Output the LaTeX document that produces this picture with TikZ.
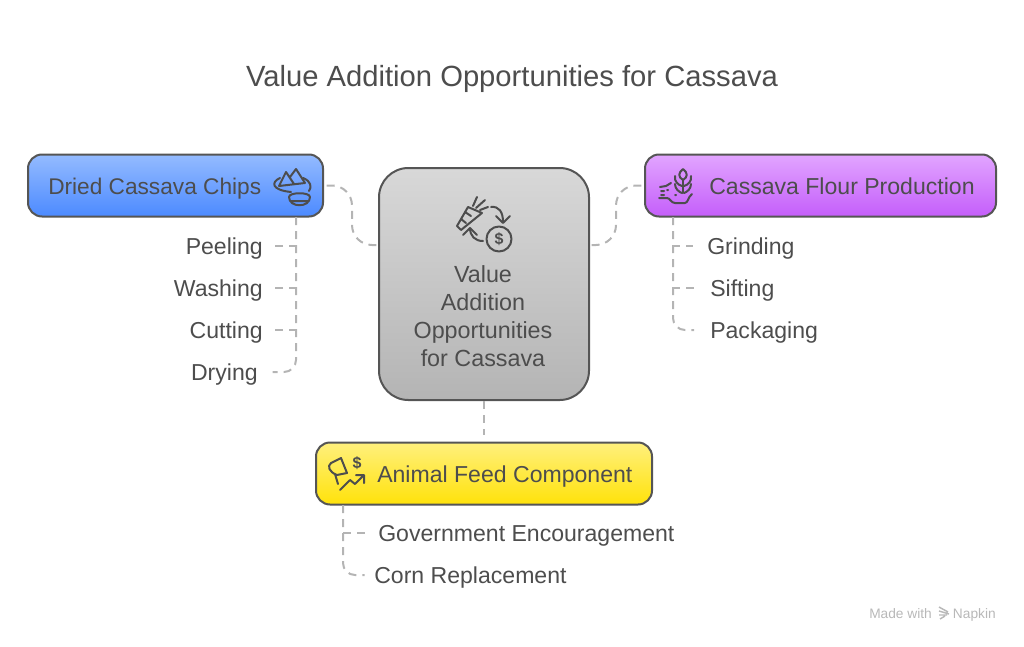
\documentclass[tikz,border=0pt]{standalone}
\usepackage{fontspec}
\setmainfont{Liberation Sans}
\usetikzlibrary{positioning,arrows.meta}
\definecolor{ink}{HTML}{4D4D4D}
\definecolor{edge}{HTML}{555555}
\definecolor{wire}{HTML}{B4B4B4}
\begin{document}
\begin{tikzpicture}[x=0.75pt,y=-0.75pt,text=ink,
box/.style={draw=edge,line width=1.5pt,rounded corners=10.5pt,minimum height=46.5pt,inner sep=0pt},
lbl/.style={font=\fontsize{17.3}{20}\selectfont,inner sep=0pt},
item/.style={lbl,text height=15pt,text depth=3pt},
link/.style={draw=wire,line width=1.5pt,dash pattern=on 6pt off 4.5pt},
icon/.style={draw=ink,line width=1.5pt,line cap=round,line join=round}]
\useasboundingbox (0,0) rectangle (1024,646);
\node[font=\fontsize{21.9}{26}\selectfont,inner sep=0pt] (title) at (512,79) {Value Addition Opportunities for Cassava};
% boxes
\node[box,minimum width=221.25pt,top color={rgb,255:red,148;green,187;blue,255},bottom color={rgb,255:red,76;green,138;blue,255}] (chips) at (175.5,185.5) {};
\node[box,minimum width=263.25pt,top color={rgb,255:red,226;green,165;blue,255},bottom color={rgb,255:red,196;green,94;blue,250}] (flour) at (820.5,185.5) {};
\node[box,minimum width=252pt,top color={rgb,255:red,255;green,240;blue,125},bottom color={rgb,255:red,255;green,226;blue,10}] (feed) at (484,473.5) {};
\node[box,minimum width=157.5pt,minimum height=174pt,rounded corners=22pt,top color={rgb,255:red,216;green,216;blue,216},bottom color={rgb,255:red,180;green,180;blue,180}] (hub) at (484,284) {};
\node[lbl,anchor=west,font=\fontsize{17}{20}\selectfont] (chipstxt) at (48,189) {Dried Cassava Chips};
\node[lbl,anchor=west] (flourtxt) at (709,186) {Cassava Flour Production};
\node[lbl,anchor=west] (feedtxt) at (377,477) {Animal Feed Component};
\node[lbl,align=center,font=\fontsize{17.5}{21}\selectfont] (hubtxt) at (483,316) {Value\\Addition\\Opportunities\\for Cassava};
% items
\node[item,anchor=east] (peel) at (263,246) {Peeling};
\node[item,below=31.5pt of peel.east,anchor=east] (wash) {Washing};
\node[item,below=31.5pt of wash.east,anchor=east] (cut) {Cutting};
\node[item,below=31.5pt of cut.east,anchor=east,xshift=-3.75pt] (dry) {Drying};
\node[item,anchor=west] (grind) at (707,246) {Grinding};
\node[item,below=31.5pt of grind.west,anchor=west,xshift=2.25pt] (sift) {Sifting};
\node[item,below=31.5pt of sift.west,anchor=west] (pack) {Packaging};
\node[item,anchor=west] (gov) at (378,533) {Government Encouragement};
\node[item,below=31.5pt of gov.west,anchor=west,xshift=-3pt] (corn) {Corn Replacement};
% connectors
\coordinate (hubl) at (379,245);
\coordinate (hubr) at (589,245);
\coordinate (chipspine) at (296,217);
\coordinate (flourspine) at (673,217);
\coordinate (feedspine) at (343,505);
\draw[link,rounded corners=15pt,shorten <=2pt] (chips.east) -- ++(28,0) |- (hubl);
\draw[link,rounded corners=15pt,shorten <=2pt] (flour.west) -- ++(-28,0) |- (hubr);
\draw[link,shorten >=5pt] (hub.south) -- (feed.north);
\foreach \n in {peel,wash,cut} \draw[link,shorten >=8pt] (chipspine) |- (\n.east);
\draw[link,rounded corners=9pt,shorten >=11pt] (chipspine) |- (dry.east);
\foreach \n in {grind,sift} \draw[link,shorten >=10.5pt] (flourspine) |- (\n.west);
\draw[link,rounded corners=9pt,shorten >=12pt] (flourspine) |- (pack.west);
\draw[link,shorten >=9.75pt] (feedspine) |- (gov.west);
\draw[link,rounded corners=9pt,shorten >=7pt] (feedspine) |- (corn.west);
% icon chips
\draw[icon] (279,186) -- (286,172) -- (294,184) (290,177) -- (296,169) -- (305,183) (279,186) -- (305,183);
\draw[icon] (280,178) .. controls (271,182) and (271,190) .. (291,192) (303,178) .. controls (311,181) and (312,187) .. (309,191);
\draw[icon] (289,197) .. controls (289,192) and (310,192) .. (310,197) .. controls (310,208) and (289,208) .. (289,197) (290,201) -- (309,201);
% icon carrot
\draw[icon] (457,226) -- (468,207) -- (482,213) -- (461,230) -- cycle (465,212) -- (471,216) (461,219) -- (466,223);
\draw[icon] (473,206) -- (477,197) (476,208) -- (485,200) (480,210) -- (488,207);
\draw[icon] (491,207) .. controls (499,206) and (503,212) .. (503,222);
\draw[icon] (496,216) -- (503,223) -- (510,216);
\draw[icon] (483,241) .. controls (475,241) and (470,236) .. (470,228);
\draw[icon] (463,235) -- (470,228) -- (477,235);
\draw[icon] (499,239) circle (12.5);
\node[font=\bfseries\fontsize{12}{14}\selectfont,inner sep=0pt] (coin) at (499,239) {\$};
% icon wheat
\draw[icon] (683,180) -- (683,193);
\draw[icon] (683,169) .. controls (678,173) and (678,177) .. (683,180) .. controls (688,177) and (688,173) .. (683,169);
\draw[icon] (675,176) .. controls (674,181) and (678,185) .. (682,186) (691,176) .. controls (692,181) and (688,185) .. (684,186);
\draw[icon] (675,184) .. controls (675,189) and (679,192) .. (682,193) (691,184) .. controls (691,189) and (687,192) .. (684,193);
\draw[icon] (659,198) -- (667,198) .. controls (670,198) and (671,203) .. (675,203) -- (685,203) .. controls (688,203) and (688,197) .. (692,194);
\draw[icon] (660,187) -- (666,186) -- (671,183) (661,191) -- (664,191) (661,195) -- (664,195) (667,190) -- (668,190) (675,195) -- (676,195);
% icon feed
\draw[icon] (341,458) -- (347,473) -- (337,475) .. controls (329,472) and (327,466) .. (331,463) -- cycle (335,474) -- (338,484);
\node[font=\bfseries\fontsize{12}{14}\selectfont,inner sep=0pt] (cash) at (357,463) {\$};
\draw[icon] (340,490) -- (350,480) -- (355,484) -- (364,475) (356,475) -- (364,475) -- (364,483);
% footer
\node[inner sep=0pt,anchor=base west,text=black!28,font=\fontsize{10.3}{12}\selectfont] (made) at (869,618) {Made with};
\node[inner sep=0pt,anchor=base east,text=black!28,font=\fontsize{10.3}{12}\selectfont] (napkin) at (996,618) {Napkin};
\draw[draw=black!28,line width=1.1pt] (939,607) -- (948,612) (939,611) -- (949,614) (939,615) -- (947,615) (940,619) -- (945,616);
\end{tikzpicture}
\end{document}
